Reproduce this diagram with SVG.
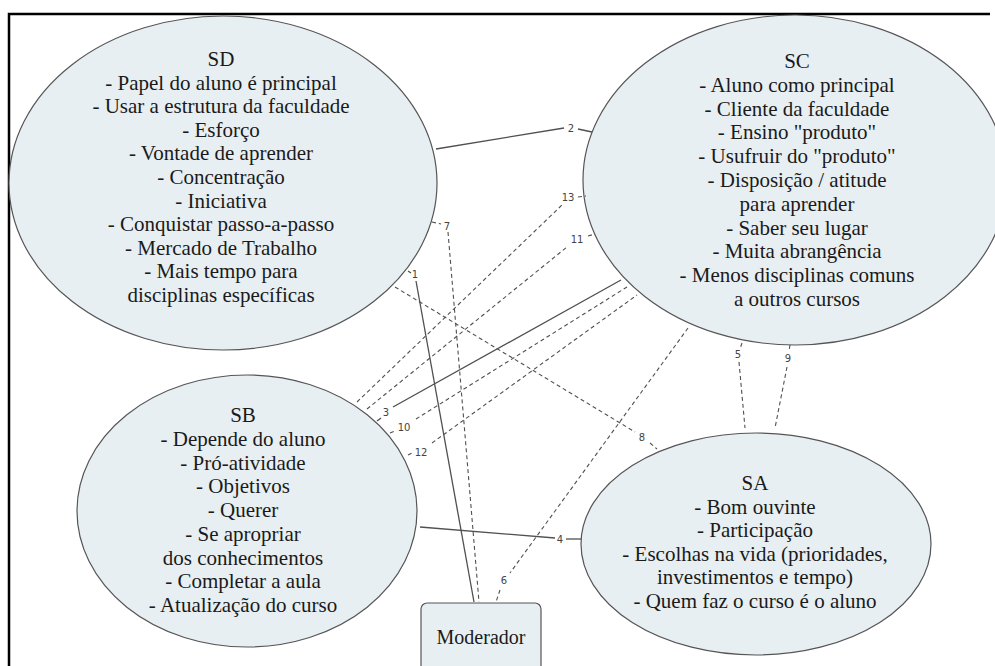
<svg xmlns="http://www.w3.org/2000/svg" width="995" height="666" viewBox="0 0 995 666">
<style>
.node{fill:#e8eff2;stroke:#555;stroke-width:1.2}
.s{fill:none;stroke:#505050;stroke-width:1.3}
.d{fill:none;stroke:#505050;stroke-width:1.1;stroke-dasharray:4 3}
</style>
<rect width="995" height="666" fill="#fff"/>
<path d="M9,666 V14 H990" fill="none" stroke="#000" stroke-width="2.5"/>
<g id="SD">
<ellipse class="node" cx="223" cy="183" rx="214" ry="167"/>
<text font-family="Liberation Serif" font-size="21" fill="#1a1a1a" text-anchor="middle"><tspan x="221" y="66">SD</tspan><tspan x="221" y="89.6">- Papel do aluno é principal</tspan><tspan x="221" y="113.2">- Usar a estrutura da faculdade</tspan><tspan x="221" y="136.8">- Esforço</tspan><tspan x="221" y="160.4">- Vontade de aprender</tspan><tspan x="221" y="184">- Concentração</tspan><tspan x="221" y="207.6">- Iniciativa</tspan><tspan x="221" y="231.2">- Conquistar passo-a-passo</tspan><tspan x="221" y="254.8">- Mercado de Trabalho</tspan><tspan x="221" y="278.4">- Mais tempo para</tspan><tspan x="221" y="302">disciplinas específicas</tspan></text>
</g>
<g id="SC">
<ellipse class="node" cx="795" cy="180" rx="212" ry="165"/>
<text font-family="Liberation Serif" font-size="21" fill="#1a1a1a" text-anchor="middle"><tspan x="797" y="68">SC</tspan><tspan x="797" y="91.8">- Aluno como principal</tspan><tspan x="797" y="115.6">- Cliente da faculdade</tspan><tspan x="797" y="139.4">- Ensino "produto"</tspan><tspan x="797" y="163.2">- Usufruir do "produto"</tspan><tspan x="797" y="187">- Disposição / atitude</tspan><tspan x="797" y="210.8">para aprender</tspan><tspan x="797" y="234.6">- Saber seu lugar</tspan><tspan x="797" y="258.4">- Muita abrangência</tspan><tspan x="797" y="282.2">- Menos disciplinas comuns</tspan><tspan x="797" y="306">a outros cursos</tspan></text>
</g>
<g id="SB">
<ellipse class="node" cx="247" cy="511" rx="170" ry="136"/>
<text font-family="Liberation Serif" font-size="21" fill="#1a1a1a" text-anchor="middle"><tspan x="243" y="422">SB</tspan><tspan x="243" y="445.8">- Depende do aluno</tspan><tspan x="243" y="469.5">- Pró-atividade</tspan><tspan x="243" y="493.3">- Objetivos</tspan><tspan x="243" y="517">- Querer</tspan><tspan x="243" y="540.8">- Se apropriar</tspan><tspan x="243" y="564.5">dos conhecimentos</tspan><tspan x="243" y="588.3">- Completar a aula</tspan><tspan x="243" y="612">- Atualização do curso</tspan></text>
</g>
<g id="SA">
<ellipse class="node" cx="756" cy="544" rx="175" ry="111"/>
<text font-family="Liberation Serif" font-size="21" fill="#1a1a1a" text-anchor="middle"><tspan x="755" y="490">SA</tspan><tspan x="755" y="513.6">- Bom ouvinte</tspan><tspan x="755" y="537.2">- Participação</tspan><tspan x="755" y="560.8">- Escolhas na vida (prioridades,</tspan><tspan x="755" y="584.4">investimentos e tempo)</tspan><tspan x="755" y="608">- Quem faz o curso é o aluno</tspan></text>
</g>
<g id="Moderador">
<rect class="node" x="421" y="603" width="120" height="90" rx="6" stroke-width="1.5"/>
<text x="481" y="644" font-family="Liberation Serif" font-size="20" fill="#1a1a1a" text-anchor="middle">Moderador</text>
</g>
<g id="connectors">
<path class="s" d="M408,271 L411,273"/>
<path class="s" d="M416,281 L474,602"/>
<path class="s" d="M436,149 L564,128"/>
<path class="s" d="M578,129 L592,132"/>
<path class="s" d="M377,421 L381,418"/>
<path class="s" d="M393,407 L621,280"/>
<path class="s" d="M420,527 L555,538"/>
<path class="s" d="M566,539 L581,539"/>
<path class="d" d="M742,343 L740,349"/>
<path class="d" d="M739,362 L745,428"/>
<path class="d" d="M688,328 L510,573"/>
<path class="d" d="M500,590 L496,602"/>
<path class="d" d="M432,222 L441,224"/>
<path class="d" d="M448,232 L479,602"/>
<path class="d" d="M395,287 L635,432"/>
<path class="d" d="M650,443 L657,449"/>
<path class="d" d="M790,345 L789,351"/>
<path class="d" d="M787,367 L775,428"/>
<path class="d" d="M390,433 L395,431"/>
<path class="d" d="M416,419 L627,287"/>
<path class="d" d="M367,409 L567,247"/>
<path class="d" d="M588,236 L595,234"/>
<path class="d" d="M408,455 L412,453"/>
<path class="d" d="M432,443 L637,295"/>
<path class="d" d="M357,402 L562,205"/>
<path class="d" d="M578,197 L586,196"/>
<g font-family="DejaVu Sans" font-size="10" fill="#444" text-anchor="middle">
<text x="415" y="278">1</text>
<text x="571" y="132">2</text>
<text x="386" y="416">3</text>
<text x="560" y="543">4</text>
<text x="738" y="358">5</text>
<text x="504" y="584">6</text>
<text x="447" y="230">7</text>
<text x="642" y="441">8</text>
<text x="788" y="362">9</text>
<text x="404" y="431">10</text>
<text x="577" y="243">11</text>
<text x="421" y="456">12</text>
<text x="568" y="201">13</text>
</g>
</g>
</svg>
